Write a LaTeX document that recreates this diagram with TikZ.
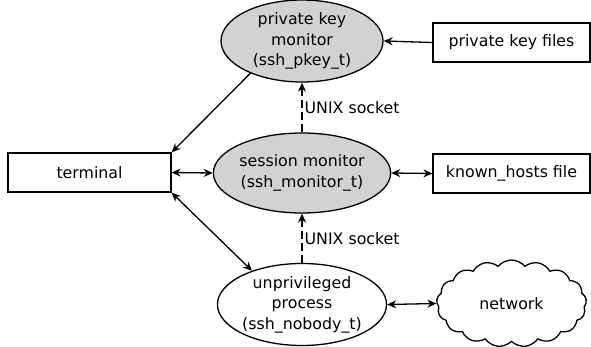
\documentclass[tikz,border=0pt]{standalone}
\usepackage{fontspec}
\setmainfont{DejaVu Sans}
\usetikzlibrary{shapes.geometric,shapes.symbols,arrows.meta}
\definecolor{procgray}{RGB}{210,210,210}
\tikzset{
  proc/.style={ellipse,draw,line width=1.3pt,minimum width=162pt,minimum height=82pt,inner sep=0pt,align=center},
  box/.style={rectangle,draw,line width=1.3pt,minimum height=39pt,inner sep=0pt},
  conn/.style={line width=1.3pt,>={Stealth[length=9pt,width=8pt,inset=3pt]}},
  sock/.style={conn,dash pattern=on 8pt off 4pt},
  lbl/.style={anchor=west,inner sep=2pt}
}
\begin{document}
\begin{tikzpicture}[x=1pt,y=-1pt,font=\fontsize{15.8}{20.5}\selectfont]
\useasboundingbox (0,0) rectangle (591,347);
\node[proc,fill=procgray] (pkey) at (302,41) {private key\\monitor\\(ssh\_pkey\_t)};
\node[proc,fill=procgray,minimum height=80pt] (sess) at (302,173) {session monitor\\(ssh\_monitor\_t)};
\node[proc] (unpriv) at (302,304.5) {unprivileged\\process\\(ssh\_nobody\_t)};
\node[box,minimum width=163pt] (term) at (89.5,172.5) {terminal};
\node[box,minimum width=157pt] (pkf) at (511.5,42.5) {private key files};
\node[box,minimum width=157pt] (kh) at (511.5,173.5) {known\_hosts file};
\node[cloud,draw,line width=1.3pt,cloud puffs=17,cloud puff arc=100,aspect=1.9,minimum width=150pt,minimum height=87pt,inner sep=0pt] (net) at (511.5,303.5) {network};
\draw[conn,->] (pkf.west) -- (pkey.east);
\draw[conn,->] (pkey.212) -- (term.north east);
\draw[conn,<->] (term.east) -- (sess.west);
\draw[conn,<->] (sess.east) -- (kh.west);
\draw[conn,<->] (term.south east) -- (unpriv.146);
\draw[conn,<->] (unpriv.east) -- (net.west);
\draw[sock,->] (sess.north) -- node[lbl] {UNIX socket} (pkey.south);
\draw[sock,->] (unpriv.north) -- node[lbl] {UNIX socket} (sess.south);
\end{tikzpicture}
\end{document}
